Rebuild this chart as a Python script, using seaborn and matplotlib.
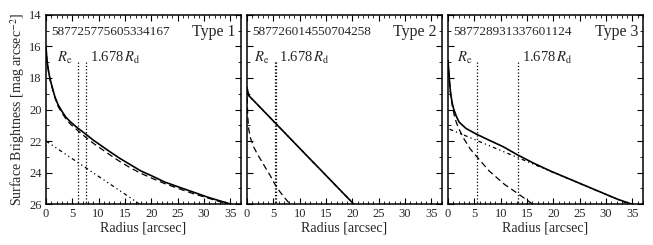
import numpy as np
import pandas as pd
import matplotlib
matplotlib.use("Agg")
import matplotlib.pyplot as plt
import seaborn as sns
from matplotlib.ticker import MultipleLocator

# 面板标题
obj_ids = ['587725775605334167', '587726014550704258', '587728931337601124']
types = ['Type 1', 'Type 2', 'Type 3']

# 有效半径 / 1.678 Rd
r_e = [6.0, 5.25, 5.45]
r_d = [7.6, 5.45, 13.25]

# Type 1
r1_tot = [0, 0.2, 0.5, 0.8, 1.2, 1.7, 2.3, 3.0, 3.8, 4.7, 5.9, 7.5, 9.0, 10.5, 12.0,
          14.0, 16.0, 18.0, 20.0, 22.5, 25.0, 28.0, 31.0, 34.0, 36.5]
mu1_tot = [16.0, 16.9, 17.6, 18.1, 18.6, 19.2, 19.7, 20.1, 20.5, 20.8, 21.15, 21.55, 21.95,
           22.3, 22.65, 23.1, 23.5, 23.9, 24.2, 24.6, 24.9, 25.25, 25.6, 25.9, 26.15]
mu1_bul = [16.0, 16.9, 17.6, 18.15, 18.65, 19.25, 19.8, 20.2, 20.6, 20.95, 21.3, 21.75, 22.15,
           22.5, 22.85, 23.3, 23.7, 24.05, 24.35, 24.7, 25.0, 25.35, 25.65, 25.95, 26.2]
r1_disk = [0, 4, 8, 12, 16, 17.7]
mu1_disk = [22.0, 22.9, 23.8, 24.7, 25.6, 26.0]

# Type 2
r2_tot = [0, 0.15, 0.4, 2, 5, 8, 11, 14, 17, 20.1, 20.5]
mu2_tot = [18.6, 18.85, 19.14, 19.69, 20.73, 21.77, 22.81, 23.84, 24.88, 25.95, 26.1]
r2_bul = [0, 0.05, 0.15, 0.35, 0.7, 1.3, 2.0, 2.8, 3.6, 4.5, 5.3, 6.2, 7.0, 7.9, 8.3]
mu2_bul = [18.6, 19.6, 20.5, 21.3, 21.85, 22.4, 22.85, 23.3, 23.75, 24.25, 24.75, 25.2,
           25.55, 25.9, 26.05]
r2_disk = [0, 5, 10, 15, 20.1, 20.5]
mu2_disk = [19.0, 20.73, 22.46, 24.19, 25.95, 26.1]

# Type 3
r3_tot = [0, 0.15, 0.3, 0.5, 0.8, 1.1, 1.6, 2.1, 3.4, 5.3, 7.8, 10.4, 13.3, 16.2, 19.4,
          22.6, 25.8, 29.0, 32.2, 34.8, 35.5]
mu3_tot = [16.9, 17.6, 18.3, 19.0, 19.6, 20.0, 20.45, 20.8, 21.2, 21.55, 21.95, 22.35, 22.9,
           23.4, 23.9, 24.35, 24.8, 25.25, 25.7, 26.0, 26.1]
r3_bul = [0, 0.15, 0.3, 0.5, 0.8, 1.2, 1.6, 2.1, 3.0, 4.2, 5.6, 7.8, 10.7, 13.3, 15.8, 16.3]
mu3_bul = [16.9, 17.6, 18.35, 19.05, 19.75, 20.4, 20.85, 21.25, 21.85, 22.5, 23.05, 23.9,
           24.75, 25.35, 25.95, 26.05]
r3_disk = [0.3, 5, 10, 15, 20, 25, 30, 35, 36]
mu3_disk = [21.25, 21.9, 22.6, 23.3, 24.0, 24.7, 25.4, 26.1, 26.25]

panels = [
    (r1_tot, mu1_tot, r1_tot, mu1_bul, r1_disk, mu1_disk),
    (r2_tot, mu2_tot, r2_bul, mu2_bul, r2_disk, mu2_disk),
    (r3_tot, mu3_tot, r3_bul, mu3_bul, r3_disk, mu3_disk),
]

sns.set_style("ticks", {"xtick.direction": "in", "ytick.direction": "in"})
plt.rcParams['font.family'] = ['Liberation Serif', 'DejaVu Serif']
plt.rcParams['mathtext.fontset'] = 'stix'

fig, axes = plt.subplots(1, 3, figsize=(6.53, 2.45), dpi=100, sharey=True)
fig.subplots_adjust(left=0.0704, right=0.9847, top=0.9388, bottom=0.1673, wspace=0.031)

dash_dot2 = (0, (3, 2.5, 1, 2.5, 1, 2.5))

for i, ax in enumerate(axes):
    rt, mt, rb, mb, rd, md = panels[i]
    sns.lineplot(x=rd, y=md, ax=ax, color='k', lw=0.9, linestyle=dash_dot2, estimator=None)
    sns.lineplot(x=rb, y=mb, ax=ax, color='k', lw=0.9, linestyle=(0, (5, 3)), estimator=None)
    sns.lineplot(x=rt, y=mt, ax=ax, color='k', lw=1.2, estimator=None)

    ax.plot([r_e[i], r_e[i]], [17.0, 26.0], color='k', lw=0.9, linestyle=':')
    ax.plot([r_d[i], r_d[i]], [17.0, 26.0], color='k', lw=0.9, linestyle=':')
    ax.text(r_e[i] - 0.9, 16.75, r'$R_{\rm e}$', ha='right', va='center', fontsize=10.5)
    ax.text(r_d[i] + 0.7, 16.75, r'1.678$\,R_{\rm d}$', ha='left', va='center', fontsize=10.5)

    ax.text(0.027, 0.912, obj_ids[i], transform=ax.transAxes, ha='left', va='center', fontsize=9.5)
    ax.text(0.974, 0.912, types[i], transform=ax.transAxes, ha='right', va='center', fontsize=11.5)

    ax.set_xlim(0, 37)
    ax.set_ylim(26, 14)
    ax.xaxis.set_major_locator(MultipleLocator(5))
    ax.xaxis.set_minor_locator(MultipleLocator(1))
    ax.yaxis.set_major_locator(MultipleLocator(2))
    ax.yaxis.set_minor_locator(MultipleLocator(1))
    ax.tick_params(which='both', direction='in', top=True, right=True, labelsize=9, color='k')
    ax.tick_params(which='major', length=4, width=0.8, pad=3)
    ax.tick_params(which='minor', length=2, width=0.6)
    for s in ax.spines.values():
        s.set_linewidth(1.1)
        s.set_color('k')
    ax.set_xlabel('Radius [arcsec]', fontsize=10, labelpad=1)
    ax.set_ylabel('')

axes[0].set_ylabel(r'Surface Brightness [mag arcsec$^{-2}$]', fontsize=10, labelpad=2)

plt.savefig('out.png', dpi=100)
